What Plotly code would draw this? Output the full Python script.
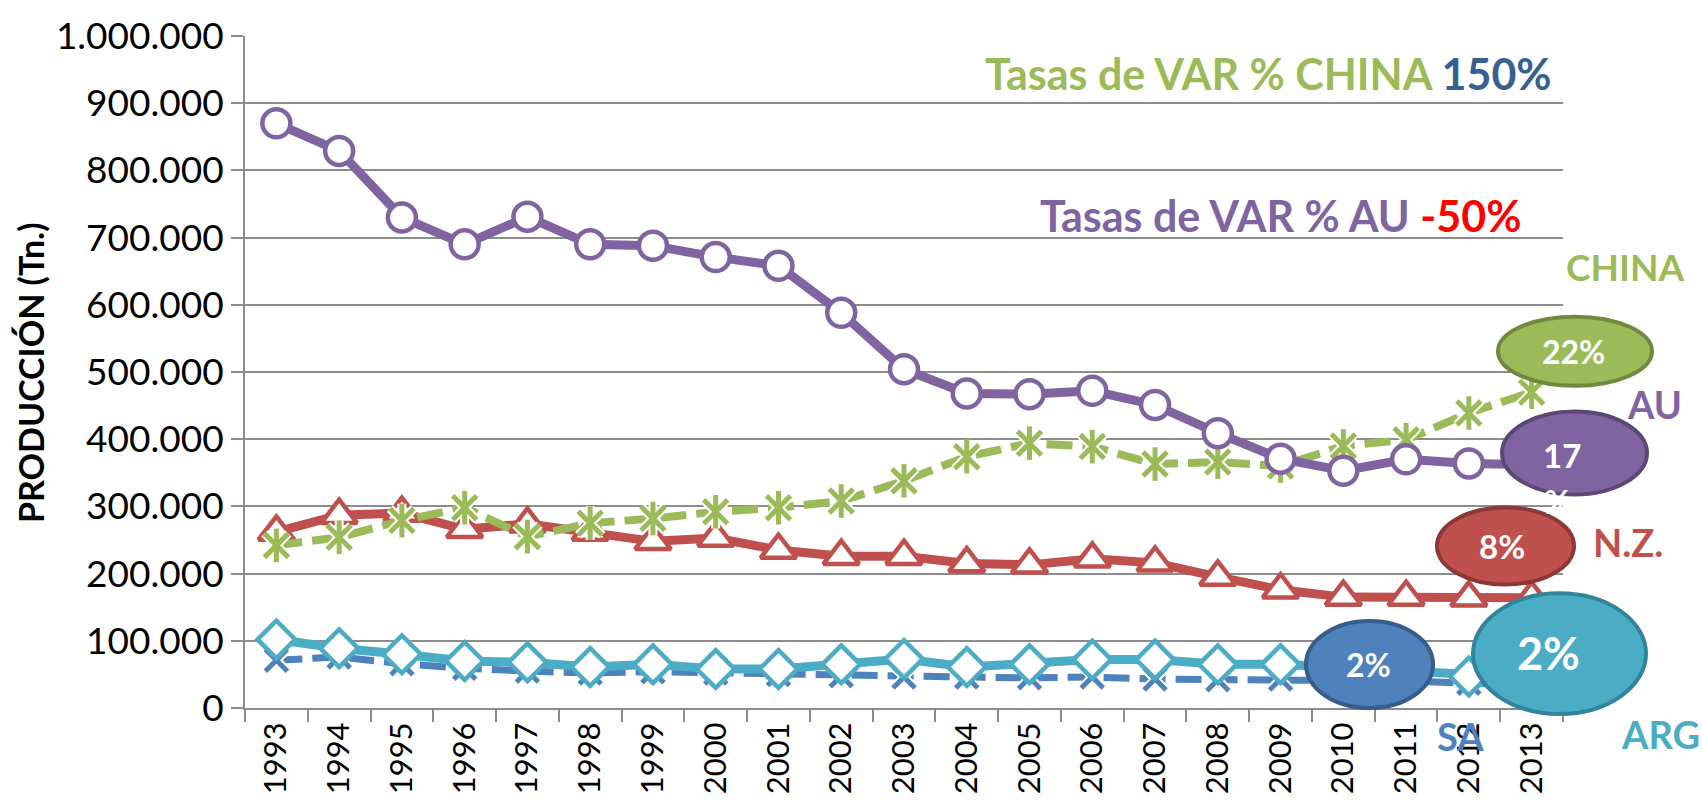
import plotly.graph_objects as go

# ---------------- data ----------------
years = [str(y) for y in range(1993, 2014)]
au = [870000, 829000, 730000, 690000, 731000, 690000, 688000, 671000, 658000, 588000,
      504000, 468000, 467000, 472000, 451000, 409000, 371000, 353000, 370000, 364000, 362000]
china = [242000, 254000, 279000, 298000, 255000, 275000, 282000, 292000, 298000, 308000,
         338000, 374000, 394000, 389000, 363000, 366000, 360000, 390000, 399000, 439000, 470000]
nz = [262000, 287000, 290000, 266000, 274000, 262000, 248000, 253000, 235000, 226000,
      226000, 215000, 213000, 222000, 216000, 195000, 176000, 165000, 165000, 164000, 164000]
sa = [71000, 76000, 66000, 59000, 55000, 52000, 54000, 52000, 50000, 48000,
      46000, 46000, 45000, 46000, 43000, 42000, 43000, 42000, 40000, 37000, 36000]
arg = [102000, 89000, 80000, 70000, 68000, 61000, 65000, 58000, 58000, 65000,
       73000, 61000, 65000, 72000, 72000, 65000, 65000, 60000, 55000, 47000, 45000]
y_ticks = list(range(0, 1000001, 100000))

# ---------------- style ----------------
C_AU, C_CN, C_NZ, C_SA, C_ARG = "#8064A2", "#9BBB59", "#C0504D", "#4F81BD", "#4BACC6"
GRID = "#8C8C8C"
FONT = "Lato"

W, H = 1703, 807
L, R, T, B = 245, 1563, 28, 708


def px(x):
    return (x - L) / (R - L)


def py(y):
    return (B - y) / (B - T)


fig = go.Figure()

# SA (dashed, x markers)
fig.add_trace(go.Scatter(x=years, y=sa, mode="lines",
                         line=dict(color=C_SA, width=7, dash="26px,10px")))
fig.add_trace(go.Scatter(x=years, y=sa, mode="markers",
                         marker=dict(symbol="x-thin-open", size=22, color="white",
                                     line=dict(color="white", width=9))))
fig.add_trace(go.Scatter(x=years, y=sa, mode="markers",
                         marker=dict(symbol="x-thin-open", size=22, color=C_SA,
                                     line=dict(color=C_SA, width=5))))
# ARG (solid, diamonds)
fig.add_trace(go.Scatter(x=years, y=arg, mode="lines+markers",
                         line=dict(color=C_ARG, width=9),
                         marker=dict(symbol="diamond", size=29, color="white",
                                     line=dict(color=C_ARG, width=4.5))))
# NZ (solid, triangles)
fig.add_trace(go.Scatter(x=years, y=nz, mode="lines+markers",
                         line=dict(color=C_NZ, width=9),
                         marker=dict(symbol="triangle-up", size=31, color="white",
                                     line=dict(color=C_NZ, width=4.5))))
# CHINA (dashed, asterisk markers)
fig.add_trace(go.Scatter(x=years, y=china, mode="lines",
                         line=dict(color=C_CN, width=8, dash="26px,10px")))
for sym in ["x-thin-open", "line-ns-open"]:
    fig.add_trace(go.Scatter(x=years, y=china, mode="markers",
                             marker=dict(symbol=sym, size=24, color="white",
                                         line=dict(color="white", width=9))))
for sym in ["x-thin-open", "line-ns-open"]:
    fig.add_trace(go.Scatter(x=years, y=china, mode="markers",
                             marker=dict(symbol=sym, size=24, color=C_CN,
                                         line=dict(color=C_CN, width=5))))
# AU (solid, circles)
fig.add_trace(go.Scatter(x=years, y=au, mode="lines+markers",
                         line=dict(color=C_AU, width=9),
                         marker=dict(symbol="circle", size=28, color="white",
                                     line=dict(color=C_AU, width=4.5))))

# ---------------- callout ellipses ----------------
ellipses = [
    (1498, 312, 1652, 382, C_CN, "#71893F"),
    (1502, 408, 1647, 492, C_AU, "#5C4776"),
    (1437, 505, 1574, 583, C_NZ, "#8C3836"),
    (1306, 620, 1433, 708, C_SA, "#385D8A"),
    (1473, 592, 1646, 714, C_ARG, "#31849B"),
]
shapes = []
for x0, y0, x1, y1, fc, lc in ellipses:
    shapes.append(dict(type="circle", xref="paper", yref="paper", layer="above",
                       x0=px(x0), x1=px(x1), y0=py(y1), y1=py(y0),
                       fillcolor=fc, line=dict(color=lc, width=4)))

annotations = []


def ann(text, x, y, size, color="white", xanchor="center"):
    annotations.append(dict(text=text, x=px(x), y=py(y), xref="paper", yref="paper",
                            showarrow=False, xanchor=xanchor, yanchor="middle",
                            font=dict(family=FONT, size=size, color=color)))


ann("<b>22%</b>", 1573, 347, 32)
ann("<b>17</b>", 1562, 452, 33)
ann("<b>%</b>", 1557, 499, 32)
ann("<b>8%</b>", 1502, 544, 33)
ann("<b>2%</b>", 1368, 664, 32)
ann("<b>2%</b>", 1548, 652, 45)

ann("<b>CHINA</b>", 1625, 261, 37, C_CN)
ann("<b>AU</b>", 1654, 400, 38, C_AU)
ann("<b>N.Z.</b>", 1628, 540, 38, C_NZ)
ann("<b>SA</b>", 1460, 736, 38, C_SA)
ann("<b>ARG</b>", 1660, 734, 38, C_ARG)

ann('<b><span style="color:%s">Tasas de VAR % CHINA </span>'
    '<span style="color:#376092">150%%</span></b>'.replace("%s", C_CN).replace("%%", "%"),
    1268, 66, 43, C_CN)
ann('<b><span style="color:%s">Tasas de VAR % AU </span>'
    '<span style="color:#FF0000">-50%%</span></b>'.replace("%s", C_AU).replace("%%", "%"),
    1280, 210, 43, C_AU)

annotations.append(dict(text="<b>PRODUCCIÓN (Tn.)</b>", x=px(30), y=py(368),
                        xref="paper", yref="paper", showarrow=False, textangle=-90,
                        xanchor="center", yanchor="middle",
                        font=dict(family=FONT, size=34, color="black")))

fig.update_layout(
    width=W, height=H, autosize=False,
    margin=dict(l=L, r=W - R, t=T, b=H - B, pad=0),
    paper_bgcolor="white", plot_bgcolor="white",
    showlegend=False, separators=",.",
    font=dict(family=FONT, color="black"),
    shapes=shapes, annotations=annotations,
    xaxis=dict(type="category", range=[-0.5, 20.5], tickangle=-90,
               tickson="boundaries", ticks="outside", ticklen=12, tickwidth=2,
               tickcolor=GRID, showgrid=False, showline=True, linecolor=GRID,
               linewidth=2, zeroline=False, tickfont=dict(family=FONT, size=31)),
    yaxis=dict(range=[0, 1000000], tickvals=y_ticks, tickformat=",.0f",
               ticks="outside", ticklen=12, tickwidth=2, tickcolor=GRID,
               showgrid=True, gridcolor=GRID, gridwidth=2, showline=True,
               linecolor=GRID, linewidth=2, zeroline=False,
               tickfont=dict(family=FONT, size=37)),
)

fig.write_html("out.html",
               config={"displayModeBar": False},
               post_script="document.body.style.margin='0';"
                           "document.body.style.overflow='hidden';")
